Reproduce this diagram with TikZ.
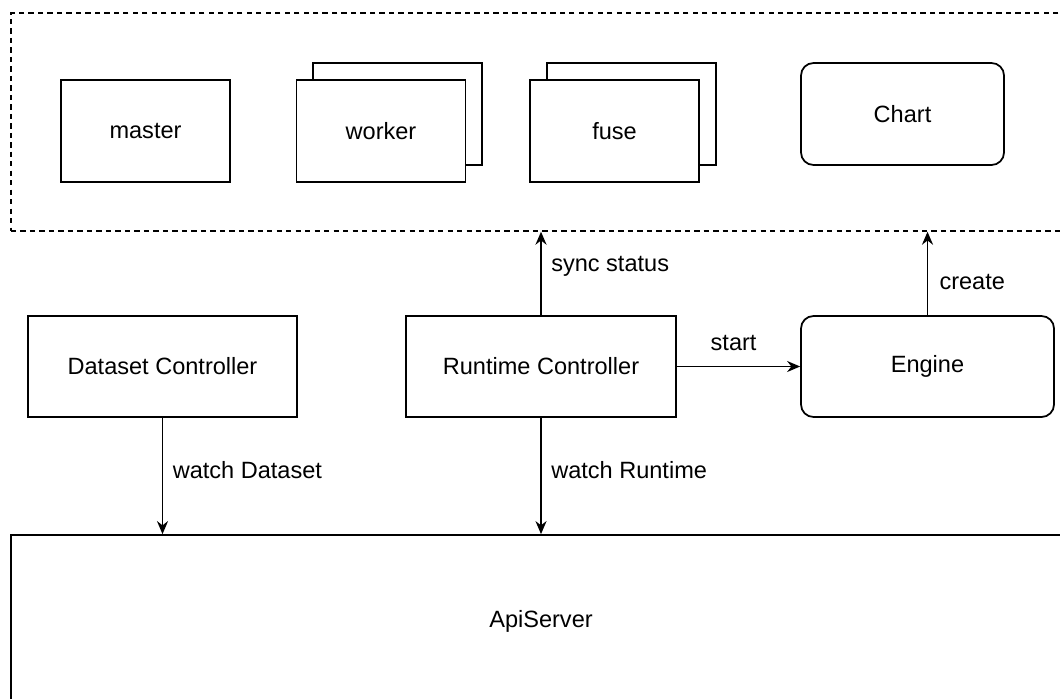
\documentclass[tikz,border=0pt]{standalone}
\usepackage{fontspec}
\setmainfont{Liberation Sans}
\usetikzlibrary{arrows.meta}
\begin{document}
\begin{tikzpicture}[scale=1,
    every node/.style={font=\fontsize{13.4}{16}\selectfont},
    box/.style={draw, line width=1pt, fill=white, inner sep=0pt, minimum width=3.38cm, minimum height=2.04cm},
    rbox/.style={box, rounded corners=0.25cm},
    ctrl/.style={box, minimum width=5.4cm, minimum height=2.02cm},
    group/.style={draw, line width=0.8pt, dash pattern=on 3pt off 2.4pt, inner sep=0pt, minimum width=21.2cm, minimum height=4.36cm},
    >={Stealth[length=2.6mm, width=2.2mm]}
]
  \useasboundingbox (0,0) rectangle (21.2,13.96);
  \clip (0,0) rectangle (21.2,13.96);
  % runtime pods
  \node[group] (pods) at (10.82,11.52) {};
  \node[box] (master) at (2.91,11.34) {master};
  \node[box] (worker2) at (7.95,11.68) {};
  \node[box] (worker) at (7.62,11.34) {worker};
  \node[box] (fuse2) at (12.63,11.68) {};
  \node[box] (fuse) at (12.29,11.34) {fuse};
  \node[rbox, minimum width=4.06cm] (chart) at (18.05,11.68) {Chart};
  % controllers
  \node[ctrl, minimum width=5.38cm] (dsctl) at (3.25,6.63) {Dataset Controller};
  \node[ctrl] (rtctl) at (10.82,6.63) {Runtime Controller};
  \node[rbox, minimum width=5.06cm, minimum height=2.02cm] (engine) at (18.55,6.63) {Engine};
  \node[box, minimum width=21.2cm, minimum height=3.44cm] (api) at (10.82,1.54) {ApiServer};
  % connectors
  \draw[->, line width=1pt] (dsctl.south) -- node[right=2pt, pos=0.45] {watch Dataset} (dsctl.south |- api.north);
  \draw[->, line width=1pt] (rtctl.south) -- node[right=2pt, pos=0.45] {watch Runtime} (rtctl.south |- api.north);
  \draw[->, line width=1pt] (rtctl.north) -- node[right=2pt, pos=0.58] {sync status} (rtctl.north |- pods.south);
  \draw[->, line width=1pt] (rtctl.east) -- node[above=5pt, pos=0.46] {start} (engine.west);
  \draw[->, line width=1pt] (engine.north) -- node[right=3pt, pos=0.4] {create} (engine.north |- pods.south);
\end{tikzpicture}
\end{document}
